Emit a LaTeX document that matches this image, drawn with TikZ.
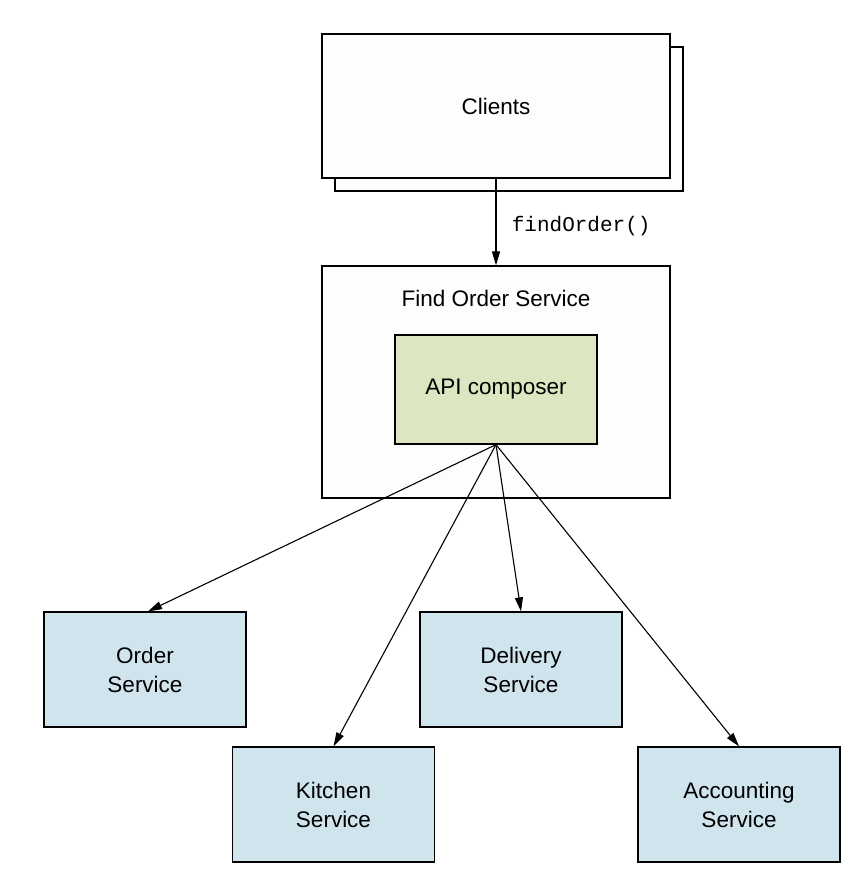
\documentclass[tikz,border=0pt]{standalone}
\usepackage{fontspec}
\setmainfont{Liberation Sans}
\setmonofont{Liberation Mono}
\usetikzlibrary{arrows.meta}
\definecolor{boxwhite}{HTML}{FDFDFB}
\definecolor{apigreen}{HTML}{DCE6C1}
\definecolor{svcblue}{HTML}{D0E4EE}
\tikzset{
  box/.style={draw=black, line width=1.2pt, inner sep=0pt, align=center,
    font=\fontsize{22.5}{29}\selectfont},
  whitebox/.style={box, fill=boxwhite},
  apibox/.style={box, fill=apigreen, minimum width=202pt, minimum height=109pt},
  svcbox/.style={box, fill=svcblue, minimum width=202pt, minimum height=115pt},
  conn/.style={draw=black, line width=1.1pt, -{Triangle[length=14pt,width=8pt]}},
  lbl/.style={inner sep=0pt, font=\fontsize{22.5}{26}\selectfont}
}
\begin{document}
\begin{tikzpicture}[x=1pt,y=-1pt]
\useasboundingbox (0,0) rectangle (862,886);
% Clients (stacked)
\node[whitebox, minimum width=348pt, minimum height=144pt] (clientsback) at (509,119) {};
\node[whitebox, minimum width=348pt, minimum height=144pt] (clients) at (496,106) {Clients};
% Find Order Service
\node[whitebox, minimum width=348pt, minimum height=232pt] (find) at (496,382) {};
\node[lbl] (findlbl) at (496,298) {Find Order Service};
\node[apibox] (api) at (496,389.5) {API composer};
% Services
\node[svcbox] (order) at (145,669.5) {Order\\Service};
\node[svcbox] (kitchen) at (333.5,804.5) {Kitchen\\Service};
\node[svcbox] (delivery) at (521,669.5) {Delivery\\Service};
\node[svcbox] (accounting) at (739,804.5) {Accounting\\Service};
% Connectors
\draw[conn] (clients.south) -- node[right, xshift=12pt, yshift=-4pt, font=\ttfamily\fontsize{21}{24}\selectfont] (callname) {findOrder()} (find.north);
\draw[conn] (api.south) -- ([xshift=3pt]order.north);
\draw[conn] (api.south) -- (kitchen.north);
\draw[conn] (api.south) -- (delivery.north);
\draw[conn] (api.south) -- (accounting.north);
\end{tikzpicture}
\end{document}
